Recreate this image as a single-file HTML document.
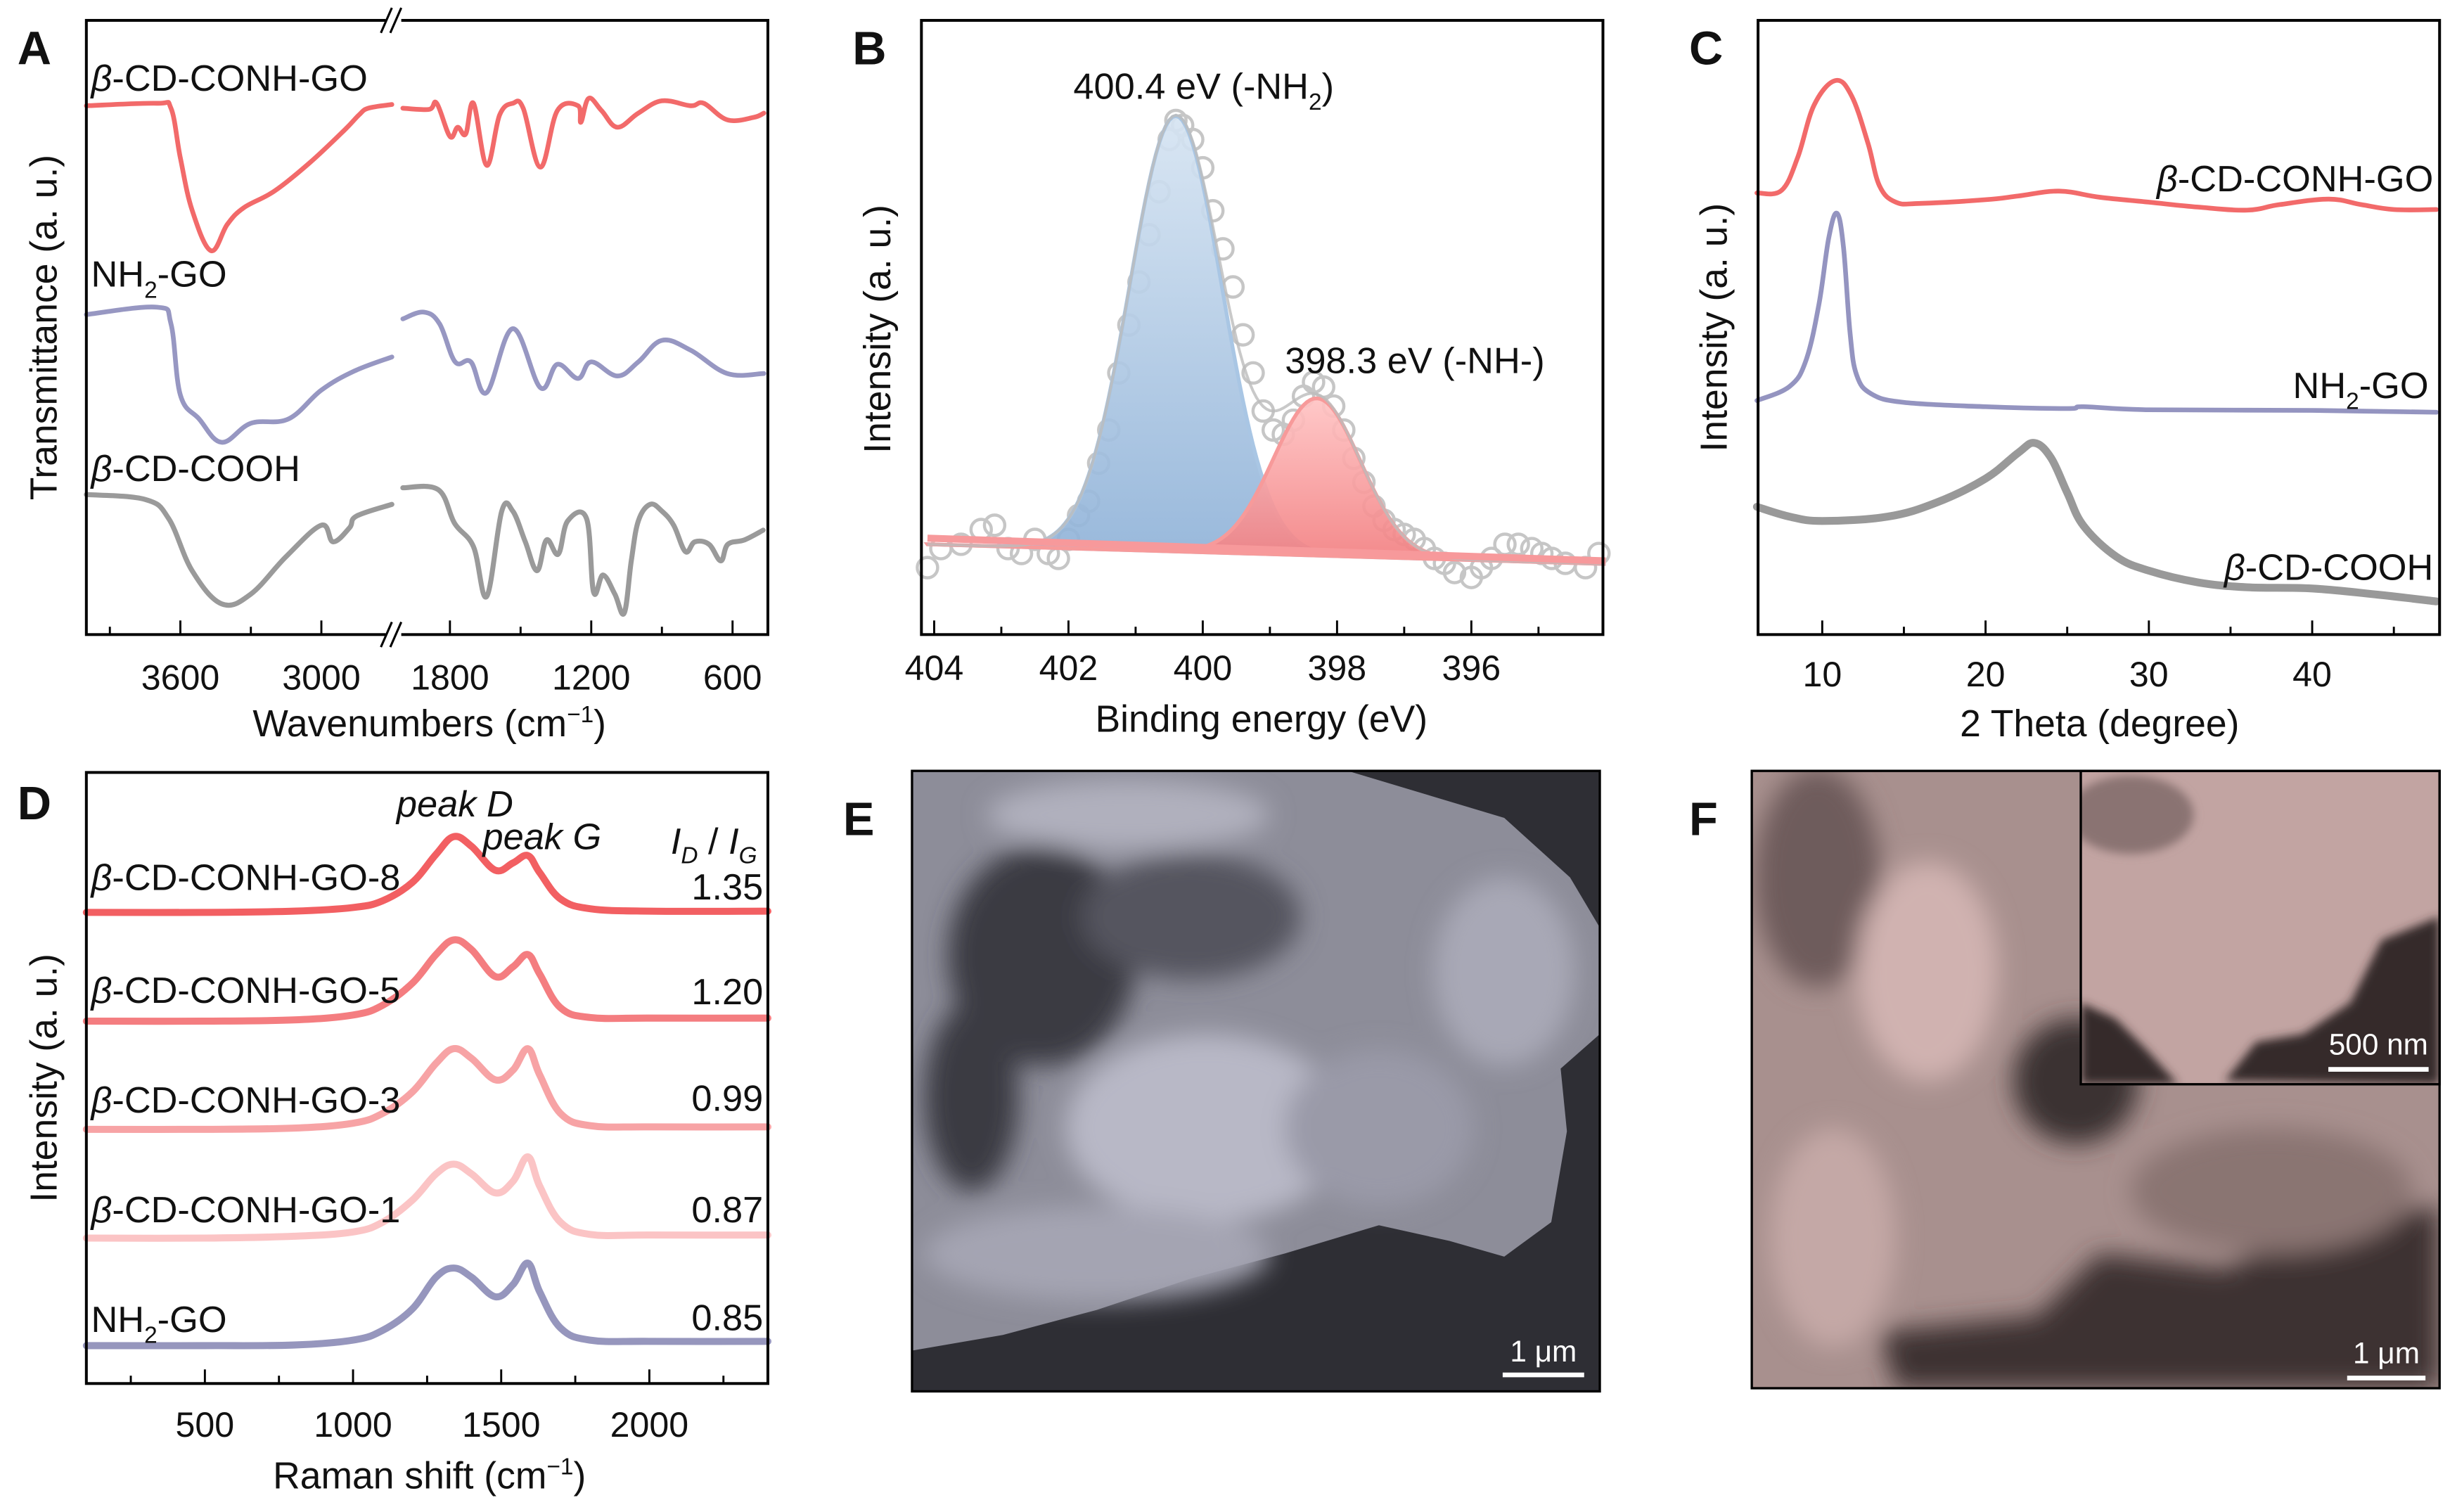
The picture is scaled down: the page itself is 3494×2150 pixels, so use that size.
<!DOCTYPE html>
<html><head><meta charset="utf-8">
<style>
html,body{margin:0;padding:0;background:#fff;}
svg{display:block;}
text{font-family:"Liberation Sans",Arial,sans-serif;fill:#111;}
</style></head>
<body>
<svg id="fig" width="3494" height="2150" viewBox="0 0 1568 965" xmlns="http://www.w3.org/2000/svg">
<defs>
<linearGradient id="gBlue" x1="0" y1="0" x2="0" y2="1"><stop offset="0" stop-color="#d6e4f2"/><stop offset="1" stop-color="#8fb2d8"/></linearGradient>
<linearGradient id="gRed" x1="0" y1="0" x2="0" y2="1"><stop offset="0" stop-color="#ffc4c4"/><stop offset="1" stop-color="#f27e80"/></linearGradient>
<filter id="blur3"><feGaussianBlur stdDeviation="3"/></filter>
<filter id="blur8"><feGaussianBlur stdDeviation="8"/></filter>
<clipPath id="clipE"><rect x="582" y="492" width="439" height="396"/></clipPath>
<clipPath id="clipF"><rect x="1118" y="492" width="439" height="394"/></clipPath>
<clipPath id="clipFi"><rect x="1328" y="492" width="229" height="200"/></clipPath>
</defs>
<g id="layer"></g>

<!-- SEM E -->
<g clip-path="url(#clipE)">
<rect x="582" y="492" width="439" height="396" fill="#2e2e34"/>
<path d="M582,492 L860,492 L960,522 L1002,560 L1021,592 L1021,660 L996,682 L1000,722 L990,780 L960,802 L925,792 L880,782 L820,800 L760,816 L700,836 L640,852 L582,862 Z" fill="#8d8d99"/>
<g filter="url(#blur8)">
<ellipse cx="665" cy="610" rx="60" ry="70" fill="#3a3a42"/>
<ellipse cx="760" cy="585" rx="70" ry="40" fill="#55555e"/>
<ellipse cx="620" cy="700" rx="30" ry="60" fill="#3a3a42"/>
<ellipse cx="770" cy="720" rx="90" ry="60" fill="#b8b8c6"/>
<ellipse cx="700" cy="800" rx="110" ry="30" fill="#a4a4b2"/>
<ellipse cx="720" cy="520" rx="90" ry="22" fill="#b0b0bd"/>
<ellipse cx="960" cy="620" rx="45" ry="60" fill="#a8a8b6"/>
<ellipse cx="880" cy="720" rx="60" ry="50" fill="#9a9aa8"/>
</g>
<rect x="959" y="876" width="52" height="3" fill="#fff"/>
<text x="985" y="869" font-size="19" text-anchor="middle" style="fill:#fff">1 μm</text>
</g>
<rect x="582" y="492" width="439" height="396" fill="none" stroke="#000" stroke-width="1.5"/>

<!-- SEM F -->
<g clip-path="url(#clipF)">
<rect x="1118" y="492" width="439" height="394" fill="#a8908e"/>
<g filter="url(#blur8)">
<path d="M1210,886 L1200,850 L1300,840 L1340,800 L1420,810 L1480,780 L1557,770 L1557,886 Z" fill="#3d3232"/>
<ellipse cx="1325" cy="690" rx="40" ry="40" fill="#3b3030"/>
<ellipse cx="1160" cy="560" rx="40" ry="70" fill="#6e5c5c"/>
<ellipse cx="1230" cy="620" rx="45" ry="70" fill="#d0b2b0"/>
<ellipse cx="1450" cy="760" rx="90" ry="40" fill="#8a7472"/>
<ellipse cx="1170" cy="790" rx="40" ry="70" fill="#c4a8a6"/>
</g>
<rect x="1498" y="878" width="50" height="3" fill="#fff"/>
<text x="1523" y="870" font-size="19" text-anchor="middle" style="fill:#fff">1 μm</text>
</g>
<g clip-path="url(#clipFi)">
<rect x="1328" y="492" width="229" height="200" fill="#c2a4a2"/>
<g filter="url(#blur3)">
<path d="M1557,585 L1520,600 L1500,640 L1470,660 L1440,665 L1420,690 L1557,692 Z" fill="#342a2a"/>
<path d="M1328,640 L1350,650 L1370,670 L1390,692 L1328,692 Z" fill="#342a2a"/>
<ellipse cx="1360" cy="520" rx="40" ry="25" fill="#8a7372"/>
</g>
<rect x="1486" y="681" width="64" height="3" fill="#fff"/>
<text x="1518" y="673" font-size="19" text-anchor="middle" style="fill:#fff">500 nm</text>
</g>
<rect x="1328" y="492" width="229" height="200" fill="none" stroke="#000" stroke-width="1.5"/>
<rect x="1118" y="492" width="439" height="394" fill="none" stroke="#000" stroke-width="1.5"/>

<text x="538" y="533" font-size="30" font-weight="bold">E</text>
<text x="1078" y="533" font-size="30" font-weight="bold">F</text>
</svg>

<script>
// ===== Panel A: FTIR (wavenumber, transmittance a.u.) =====
const ftirLeftWn = [4000,3700,3640,3600,3550,3470,3400,3330,3200,3050,2900,2840,2800,2700];
const ftirRedLeft = [86.1,86.5,85.7,77.6,69.1,62.5,66.8,69.5,72.2,76.8,82.2,84.6,85.7,86.3];
const ftirRedRightWn = [2000,1889,1856,1800,1767,1733,1700,1644,1589,1533,1489,1416,1344,1256,1244,1211,1156,1089,1000,900,778,722,622,511,467];
const ftirRedRight = [85.7,85.5,86.5,81.1,82.6,81.5,86.5,76.4,84.6,86.5,85.7,76.1,85.3,86.1,83.4,87.3,85.3,82.6,84.9,86.9,86.1,86.5,83.8,84.2,84.9];
const ftirBlueLeftWn = [4000,3700,3640,3600,3520,3424,3300,3140,3000,2860,2700];
const ftirBlueLeft = [52.1,53.3,50.6,39.0,35.1,31.3,34.4,35.1,39.8,42.9,45.2];
const ftirBlueRightWn = [2000,1911,1844,1778,1711,1644,1533,1416,1344,1256,1200,1089,1000,900,778,622,467];
const ftirBlueRight = [51.4,52.5,50.6,44.4,44.4,39.4,49.8,40.2,44.0,41.7,44.4,42.1,44.4,47.9,46.3,42.5,42.5];
const ftirGrayLeftWn = [4000,3750,3650,3550,3424,3300,3150,3000,2950,2880,2850,2700];
const ftirGrayLeft = [22.8,22.0,18.9,10.4,5.0,6.6,12.7,17.8,15.1,17.4,19.3,21.2];
const ftirGrayRightWn = [2000,1850,1780,1700,1644,1580,1533,1480,1430,1390,1340,1300,1220,1190,1150,1100,1060,1030,1000,950,900,850,800,760,700,650,620,550,470];
const ftirGrayRight = [23.9,23.6,18.1,14.3,6.2,20.1,20.1,15.1,10.4,15.4,13.1,18.5,18.9,6.9,9.7,6.6,3.5,12.0,18.5,21.2,20.1,17.8,13.5,15.1,14.7,12.0,14.7,15.4,17.0];
const ftirTicksLeft = [3600,3000];
const ftirTicksRight = [1800,1200,600];

// ===== Panel B: XPS N1s =====
const xpsEnergy = [404.1,403.9,403.6,403.3,403.1,402.9,402.7,402.5,402.3,402.15,402.0,401.85,401.7,401.55,401.4,401.25,401.1,400.95,400.8,400.65,400.5,400.4,400.3,400.15,400.0,399.85,399.7,399.55,399.4,399.25,399.1,398.95,398.8,398.65,398.5,398.35,398.2,398.05,397.9,397.75,397.6,397.45,397.3,397.15,397.0,396.85,396.7,396.55,396.4,396.25,396.0,395.85,395.7,395.5,395.3,395.1,394.95,394.8,394.6,394.3,394.1];
const xpsCounts = [10.9,14.0,14.7,17.1,17.8,14.0,13.2,15.5,13.2,12.4,15.5,19.4,21.7,27.9,33.3,42.6,50.4,57.4,65.1,72.1,80.6,83.7,82.9,80.6,76.0,69.0,62.8,56.6,48.8,42.6,36.4,33.3,32.6,34.9,38.8,41.1,40.3,37.2,33.3,28.7,24.8,20.9,18.6,17.1,16.3,15.5,14.0,12.4,11.6,10.1,9.3,10.9,12.4,14.7,14.7,14.0,13.2,12.4,11.6,10.9,13.2];
const xpsPeakCenters = [400.4, 398.3];
const xpsPeakAmps = [70.9, 25.6];
const xpsPeakSigmas = [0.69, 0.65];
const xpsBaseline = [14.7, 11.5];
const xpsTicks = [404,402,400,398,396];

// ===== Panel C: XRD =====
const xrdRedTheta = [6,7.5,8.5,9.5,10.8,11.8,12.8,13.5,14.5,16,20,22,24.5,27,30,33,36,38,41,43,45,47.6];
const xrdRed = [71.9,72.3,77.7,86.2,90.2,87.7,80.0,73.1,70.4,70.2,70.8,71.4,72.2,71.2,70.4,69.6,69.1,70.0,70.9,70.0,69.2,69.2];
const xrdBlueTheta = [6,8,9,9.8,10.4,10.9,11.3,11.7,12.1,13,15,20,25,26,30,40,47.6];
const xrdBlue = [38.1,40.4,44.6,53.8,64.6,68.6,63.1,49.2,42.3,39.2,37.8,37.1,36.8,37.1,36.6,36.5,36.2];
const xrdGrayTheta = [6,8,10,14,17,20,22,23,24,25,26,28,30,33,36,40,44,47.6];
const xrdGray = [20.8,19.2,18.5,19.2,21.5,25.4,29.6,31.2,28.8,23.1,17.7,12.7,10.4,8.5,7.7,7.5,6.5,5.4];
const xrdTicks = [10,20,30,40];

// ===== Panel D: Raman =====
const ramanShift = [100,500,800,1000,1100,1200,1280,1340,1400,1480,1540,1590,1630,1700,1800,2000,2400];
const raman8 = [77.1,77.1,77.3,77.9,79.0,82.0,86.6,89.5,87.9,84.0,85.2,86.4,83.6,79.3,77.7,77.3,77.3];
const raman5 = [59.3,59.3,59.5,60.3,61.9,65.5,70.2,72.6,71.0,66.6,68.2,70.2,67.0,61.5,59.9,59.8,59.8];
const raman3 = [41.6,41.6,41.8,42.6,44.2,47.7,52.4,54.8,53.2,49.7,51.3,54.8,50.5,44.2,42.2,42.0,42.0];
const raman1 = [23.8,23.8,24.1,24.8,26.4,30.0,34.3,35.9,34.3,31.2,33.1,37.1,32.3,26.4,24.4,24.3,24.3];
const ramanNH2 = [6.2,6.2,6.3,7.1,8.7,12.2,17.4,18.9,17.4,14.2,16.2,19.7,15.0,9.1,7.1,6.9,6.9];
const ramanNames = ["β-CD-CONH-GO-8","β-CD-CONH-GO-5","β-CD-CONH-GO-3","β-CD-CONH-GO-1","NH₂-GO"];
const ramanRatios = ["1.35","1.20","0.99","0.87","0.85"];
const ramanTicks = [500,1000,1500,2000];

const NS = "http://www.w3.org/2000/svg";
const layer = document.getElementById('layer');
const FS = 23.5, FT = 22.5, FA = 24;
function mk(tag, attrs, parent){
  const e = document.createElementNS(NS, tag);
  for (const k in attrs) e.setAttribute(k, attrs[k]);
  (parent||layer).appendChild(e);
  return e;
}
function lin(d0,d1,r0,r1){ return v => r0 + (v-d0)/(d1-d0)*(r1-r0); }
function smoothPath(pts){
  if (pts.length<2) return '';
  let d = 'M'+pts[0][0].toFixed(2)+','+pts[0][1].toFixed(2);
  for (let i=0;i<pts.length-1;i++){
    const p0=pts[Math.max(0,i-1)], p1=pts[i], p2=pts[i+1], p3=pts[Math.min(pts.length-1,i+2)];
    const t=0.18;
    const c1=[p1[0]+(p2[0]-p0[0])*t, p1[1]+(p2[1]-p0[1])*t];
    const c2=[p2[0]-(p3[0]-p1[0])*t, p2[1]-(p3[1]-p1[1])*t];
    d+=' C'+c1[0].toFixed(2)+','+c1[1].toFixed(2)+' '+c2[0].toFixed(2)+','+c2[1].toFixed(2)+' '+p2[0].toFixed(2)+','+p2[1].toFixed(2);
  }
  return d;
}
function frame(x0,y0,x1,y1,name){
  const r = mk('rect',{x:x0,y:y0,width:x1-x0,height:y1-y0,fill:'none',stroke:'#000','stroke-width':1.8});
  
  
}
function txt(x,y,s,opts,name){
  const t = mk('text',Object.assign({x:x,y:y,'font-size':FS},opts||{}));
  t.textContent = s;
  
  
  return t;
}
function tick(x,y,len,name){
  const l = mk('line',{x1:x,y1:y,x2:x,y2:y-len,stroke:'#000','stroke-width':1.3});
  
  
}
function series(pts, color, w, name){
  const p = mk('path',{d:smoothPath(pts),fill:'none',stroke:color,'stroke-width':w,'stroke-linejoin':'round','stroke-linecap':'round'});
  
  
  return p;
}
function ytitle(x,y,s,name){
  txt(x,y,s,{'font-size':FA,'text-anchor':'middle',transform:'rotate(-90 '+x+' '+y+')'},name);
}
function richLabel(x,y,parts,opts,name){
  const t = mk('text',Object.assign({x:x,y:y,'font-size':FS},opts||{}));
  
  
  parts.forEach(p=>{
    const s = mk('tspan',p.a||{},t);
    s.textContent = p.t;
  });
  return t;
}
const sub = s => ({t:s,a:{'font-size':15,dy:7}});

// ---------- Panel A ----------
(function(){
  const yT=13, yB=405;
  const xL = lin(4000,2700,55,250), xR = lin(2000,450,257,490);
  const y = lin(0,100,yB,yT);
  const colors={red:'#f26a6a',blue:'#9797c2',gray:'#9a9a9a'};
  const mkpts=(wn,v,f)=>wn.map((w,i)=>[f(w),y(v[i])]);
  series(mkpts(ftirLeftWn,ftirRedLeft,xL),colors.red,3,'ftir-conh-go-left');
  series(mkpts(ftirRedRightWn,ftirRedRight,xR),colors.red,3,'ftir-conh-go-right');
  series(mkpts(ftirBlueLeftWn,ftirBlueLeft,xL),colors.blue,3,'ftir-nh2-go-left');
  series(mkpts(ftirBlueRightWn,ftirBlueRight,xR),colors.blue,3,'ftir-nh2-go-right');
  series(mkpts(ftirGrayLeftWn,ftirGrayLeft,xL),colors.gray,3.2,'ftir-cd-cooh-left');
  series(mkpts(ftirGrayRightWn,ftirGrayRight,xR),colors.gray,3.2,'ftir-cd-cooh-right');
  frame(55,yT,490,yB,'panel-a-axes');
  mk('rect',{x:246,y:yT-3,width:10,height:6,fill:'#fff'});
  mk('rect',{x:246,y:yB-3,width:10,height:6,fill:'#fff'});
  [yT,yB].forEach(yy=>{
    const l1=mk('line',{x1:243,y1:yy+8,x2:250,y2:yy-8,stroke:'#000','stroke-width':1.4});
     
    const l2=mk('line',{x1:249,y1:yy+8,x2:256,y2:yy-8,stroke:'#000','stroke-width':1.4});
     
  });
  [3900,3300].forEach(w=>tick(xL(w),yB,5,'x-minor-tick'));
  [1500,900].forEach(w=>tick(xR(w),yB,5,'x-minor-tick'));
  ftirTicksLeft.forEach(w=>{tick(xL(w),yB,9,'x-tick'); txt(xL(w),440,String(w),{'text-anchor':'middle','font-size':FT},'x-tick-label');});
  ftirTicksRight.forEach(w=>{tick(xR(w),yB,9,'x-tick'); txt(xR(w),440,String(w),{'text-anchor':'middle','font-size':FT},'x-tick-label');});
  richLabel(274,470,[{t:'Wavenumbers (cm'},{t:'−1',a:{'font-size':15,dy:-9}},{t:')',a:{dy:9}}],{'font-size':FA,'text-anchor':'middle'},'x-axis-title-a');
  ytitle(36,209,'Transmittance (a. u.)','y-axis-title-a');
  richLabel(58,58,[{t:'β',a:{'font-style':'italic'}},{t:'-CD-CONH-GO'}],{},'label-conh-go-a');
  richLabel(58,183,[{t:'NH'},sub('2'),{t:'-GO',a:{dy:-7}}],{},'label-nh2-go-a');
  richLabel(58,307,[{t:'β',a:{'font-style':'italic'}},{t:'-CD-COOH'}],{},'label-cd-cooh-a');
  txt(11,41,'A',{'font-size':30,'font-weight':'bold'},'panel-label-a');
})();

// ---------- Panel B ----------
(function(){
  const yT=13, yB=405;
  const x = lin(404.19,394.04,588,1023);
  const y = lin(0,100,yB,yT);
  const E0=404.1, E1=394.0;
  const base = e => xpsBaseline[0] + (e-E0)/(E1-E0)*(xpsBaseline[1]-xpsBaseline[0]);
  const g = (e,i) => xpsPeakAmps[i]*Math.exp(-0.5*Math.pow((e-xpsPeakCenters[i])/xpsPeakSigmas[i],2));
  const grid=[]; for(let e=E0;e>=E1-1e-6;e-=0.05) grid.push(e);
  function area(i,fill,stroke,name){
    let d='M'+x(grid[0])+','+y(base(grid[0]));
    grid.forEach(e=>{d+=' L'+x(e).toFixed(2)+','+y(base(e)+g(e,i)).toFixed(2);});
    d+=' L'+x(grid[grid.length-1])+','+y(base(grid[grid.length-1]));
    d+=' Z';
    const p=mk('path',{d:d,fill:fill,'fill-opacity':0.92,stroke:stroke,'stroke-width':2.4});
    
    
  }
  xpsEnergy.forEach((e,i)=>{
    const c=mk('circle',{cx:x(e),cy:y(xpsCounts[i]),r:6.5,fill:'none',stroke:'#c6c6c6','stroke-width':2});
    
    
  });
  area(0,'url(#gBlue)','#a9c6e4','fit-peak-nh2');
  area(1,'url(#gRed)','#f79a9a','fit-peak-nh');
  const env = mk('path',{d:'M'+grid.map(e=>x(e).toFixed(2)+','+y(base(e)+g(e,0)+g(e,1)).toFixed(2)).join(' L'),fill:'none',stroke:'#bcbcbc','stroke-width':1.8,'stroke-opacity':0.8});
   
  const bl = mk('path',{d:'M'+x(E0)+','+y(base(E0)+1)+' L'+x(E1)+','+y(base(E1)+0.5),fill:'none',stroke:'#f7999b','stroke-width':4.5});
   
  frame(588,yT,1023,yB,'panel-b-axes');
  [403,401,399,397,395].forEach(v=>tick(x(v),yB,5,'x-minor-tick'));
  xpsTicks.forEach(v=>{tick(x(v),yB,9,'x-tick'); txt(x(v),434,String(v),{'text-anchor':'middle','font-size':FT},'x-tick-label');});
  txt(805,467,'Binding energy (eV)',{'font-size':FA,'text-anchor':'middle'},'x-axis-title-b');
  ytitle(568,210,'Intensity (a. u.)','y-axis-title-b');
  richLabel(685,63,[{t:'400.4 eV (-NH'},sub('2'),{t:')',a:{dy:-7}}],{},'label-peak-400');
  txt(820,238,'398.3 eV (-NH-)',{},'label-peak-398');
  txt(544,41,'B',{'font-size':30,'font-weight':'bold'},'panel-label-b');
})();

// ---------- Panel C ----------
(function(){
  const yT=13, yB=405;
  const x = lin(6.07,47.8,1122,1557);
  const y = lin(0,100,yB,yT);
  const pts=(t,v)=>t.map((a,i)=>[x(a),y(v[i])]);
  series(pts(xrdGrayTheta,xrdGray),'#999',5,'xrd-cd-cooh');
  series(pts(xrdBlueTheta,xrdBlue),'#9494c0',3,'xrd-nh2-go');
  series(pts(xrdRedTheta,xrdRed),'#f26a6a',3,'xrd-conh-go');
  frame(1122,yT,1557,yB,'panel-c-axes');
  [15,25,35,45].forEach(v=>tick(x(v),yB,5,'x-minor-tick'));
  xrdTicks.forEach(v=>{tick(x(v),yB,9,'x-tick'); txt(x(v),438,String(v),{'text-anchor':'middle','font-size':FT},'x-tick-label');});
  txt(1340,470,'2 Theta (degree)',{'font-size':FA,'text-anchor':'middle'},'x-axis-title-c');
  ytitle(1102,209,'Intensity (a. u.)','y-axis-title-c');
  richLabel(1553,122,[{t:'β',a:{'font-style':'italic'}},{t:'-CD-CONH-GO'}],{'text-anchor':'end'},'label-conh-go-c');
  richLabel(1550,254,[{t:'NH'},sub('2'),{t:'-GO',a:{dy:-7}}],{'text-anchor':'end'},'label-nh2-go-c');
  richLabel(1553,370,[{t:'β',a:{'font-style':'italic'}},{t:'-CD-COOH'}],{'text-anchor':'end'},'label-cd-cooh-c');
  txt(1078,41,'C',{'font-size':30,'font-weight':'bold'},'panel-label-c');
})();

// ---------- Panel D ----------
(function(){
  const yT=493, yB=883;
  const x = lin(100,2400,55,490);
  const y = lin(0,100,yB,yT);
  const sets=[raman8,raman5,raman3,raman1,ramanNH2];
  const cols=['#f25f62','#f47d80','#f7a3a5','#fbc4c5','#9696bd'];
  const ids=['raman-conh-go-8','raman-conh-go-5','raman-conh-go-3','raman-conh-go-1','raman-nh2-go'];
  sets.forEach((s,i)=>series(ramanShift.map((r,j)=>[x(r),y(s[j])]),cols[i],4.5,ids[i]));
  frame(55,yT,490,yB,'panel-d-axes');
  [250,750,1250,1750,2250].forEach(v=>tick(x(v),yB,5,'x-minor-tick'));
  ramanTicks.forEach(v=>{tick(x(v),yB,9,'x-tick'); txt(x(v),917,String(v),{'text-anchor':'middle','font-size':FT},'x-tick-label');});
  richLabel(274,950,[{t:'Raman shift (cm'},{t:'−1',a:{'font-size':15,dy:-9}},{t:')',a:{dy:9}}],{'font-size':FA,'text-anchor':'middle'},'x-axis-title-d');
  ytitle(36,688,'Intensity (a. u.)','y-axis-title-d');
  const lblY=[568,640,710,780,850];
  const valY=[574,641,709,780,849];
  ramanNames.forEach((n,i)=>{
    if (n.indexOf('NH₂')===0){
      richLabel(58,lblY[i],[{t:'NH'},sub('2'),{t:'-GO',a:{dy:-7}}],{},'label-'+ids[i]);
    } else {
      richLabel(58,lblY[i],[{t:'β',a:{'font-style':'italic'}},{t:n.slice(1)}],{},'label-'+ids[i]);
    }
    txt(487,valY[i],ramanRatios[i],{'text-anchor':'end'},'ratio-'+ids[i]);
  });
  txt(253,521,'peak D',{'font-style':'italic'},'label-peak-d');
  txt(308,542,'peak G',{'font-style':'italic'},'label-peak-g');
  richLabel(428,545,[{t:'I',a:{'font-style':'italic'}},{t:'D',a:{'font-size':15,dy:6,'font-style':'italic'}},{t:' / ',a:{dy:-6}},{t:'I',a:{'font-style':'italic'}},{t:'G',a:{'font-size':15,dy:6,'font-style':'italic'}}],{},'label-id-ig');
  txt(11,523,'D',{'font-size':30,'font-weight':'bold'},'panel-label-d');
})();
</script>
</body></html>
